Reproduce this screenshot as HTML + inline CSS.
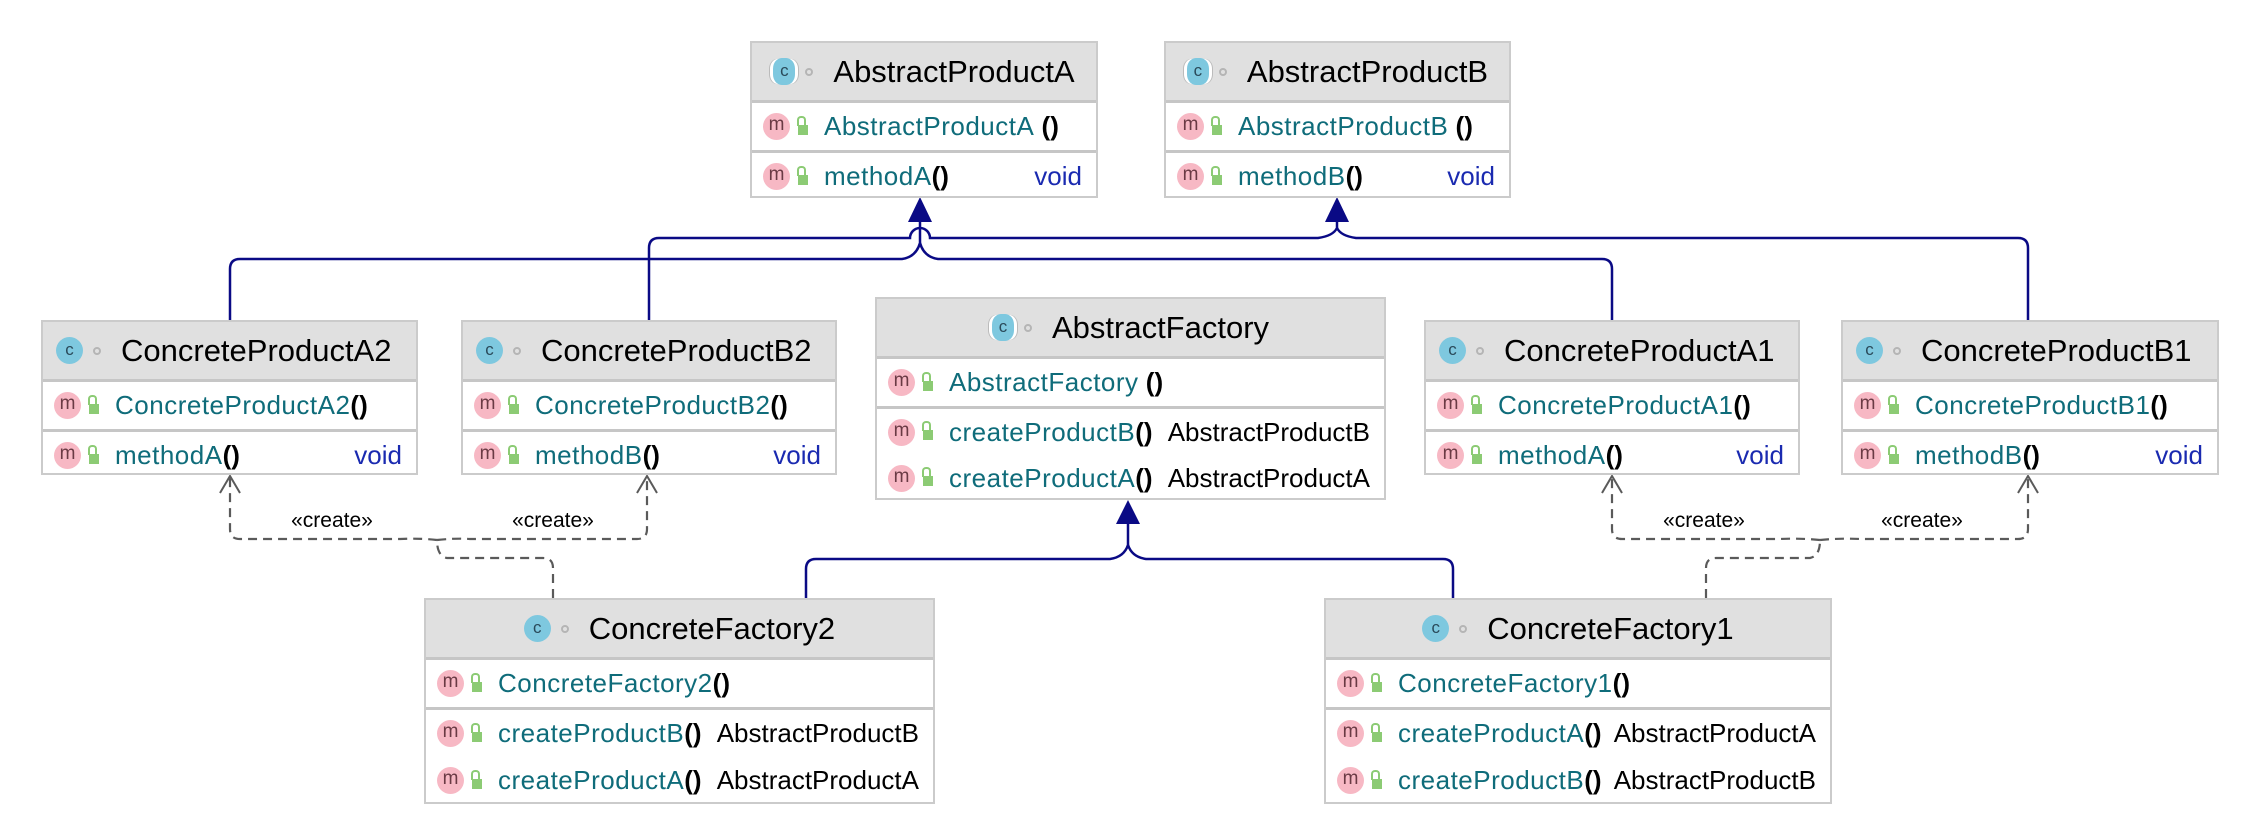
<!DOCTYPE html>
<html><head><meta charset="utf-8"><style>
html,body{margin:0;padding:0;background:#fff;}
body{width:2256px;height:840px;position:relative;overflow:hidden;font-family:"Liberation Sans",sans-serif;}
.box{position:absolute;box-sizing:border-box;border:2px solid #cbcbcb;background:#fff;}
.hd{height:57px;background:#e0e0e0;border-bottom:3px solid #c6c6c6;display:flex;align-items:center;justify-content:center;font-size:31px;color:#000;white-space:nowrap;}
.hd.l{justify-content:flex-start;padding-left:13px;}
.ci{width:27px;height:27px;border-radius:50%;background:#7ec8df;color:#2a4a5a;font-size:17px;line-height:25px;text-align:center;display:inline-block;margin-right:10px;flex:none;}
.ci.ab{box-shadow:-4px 0 0 -1px #fff,-5px 0 0 -1px #bbb,4px 0 0 -1px #fff,5px 0 0 -1px #bbb;border-radius:40%;width:22px;}
.dot{width:8px;height:8px;border-radius:50%;border:2px solid #b5b5b5;display:inline-block;margin-right:20px;box-sizing:border-box;flex:none;}
.row{height:47px;display:flex;align-items:center;padding-left:11px;padding-right:14px;font-size:26px;white-space:nowrap;position:relative;}
.sep{border-top:3px solid #c6c6c6;}
.mi{width:27px;height:27px;border-radius:50%;background:#f7b8c4;color:#6a3a44;font-size:19px;line-height:24px;text-align:center;flex:none;}
.lk{width:10px;height:10px;background:#8ccb74;margin-left:8px;margin-right:16px;margin-top:6px;flex:none;position:relative;}
.lk:before{content:"";position:absolute;left:-1px;top:-9px;width:5px;height:8px;border:2px solid #8ccb74;border-bottom:none;border-radius:4px 4px 0 0;}
.n{color:#0f6c7a;letter-spacing:0.5px;}
.p{color:#000;font-weight:bold;}
.r{margin-left:auto;padding-left:10px;color:#000;}
.v{margin-left:auto;color:#1a2ab0;}
.lbl{position:absolute;font-size:21px;color:#000;transform:translate(-50%,-50%);}
</style></head><body>
<svg width="2256" height="840" style="position:absolute;left:0;top:0" xmlns="http://www.w3.org/2000/svg">
<g fill="none" stroke="#0a0a85" stroke-width="2.5">
<path d="M230 322 V269 Q230 259 240 259 H902 Q916 257 920 243 V221"/>
<path d="M1612 322 V269 Q1612 259 1602 259 H938 Q924 257 920 243"/>
<path d="M649 322 V248 Q649 238 659 238 H910 A10 10 0 0 1 930 238 H1318 Q1333 236 1337 228 V221"/>
<path d="M2028 322 V248 Q2028 238 2018 238 H1356 Q1341 236 1337 228"/>
<path d="M806 598 V569 Q806 559 816 559 H1110 Q1124 557 1128 545 V523"/>
<path d="M1453 598 V569 Q1453 559 1443 559 H1146 Q1132 557 1128 545"/>
</g>
<g fill="#0a0a85">
<polygon points="920,197 908,222 932,222"/>
<polygon points="1337,197 1325,222 1349,222"/>
<polygon points="1128,500 1116,524 1140,524"/>
</g>
<g fill="none" stroke="#5a5a5a" stroke-width="2.2" stroke-dasharray="9,6">
<path d="M553 598 V568 Q553 558 543 558 H447 Q437 556 437 540"/>
<path d="M437 540 Q420 538 400 539 H240 Q230 539 230 529 V478"/>
<path d="M437 540 Q455 538 470 539 H637 Q647 539 647 529 V478"/>
<path d="M1706 598 V568 Q1706 558 1716 558 H1810 Q1820 556 1820 540"/>
<path d="M1820 540 Q1800 538 1780 539 H1622 Q1612 539 1612 529 V478"/>
<path d="M1820 540 Q1840 538 1860 539 H2018 Q2028 539 2028 529 V478"/>
</g>
<g fill="none" stroke="#5a5a5a" stroke-width="2">
<path d="M220 493 L230 476 L240 493"/>
<path d="M637 493 L647 476 L657 493"/>
<path d="M1602 493 L1612 476 L1622 493"/>
<path d="M2018 493 L2028 476 L2038 493"/>
</g>
</svg>

<div class="lbl" style="left:332px;top:521px">«create»</div>
<div class="lbl" style="left:553px;top:521px">«create»</div>
<div class="lbl" style="left:1704px;top:521px">«create»</div>
<div class="lbl" style="left:1922px;top:521px">«create»</div>

<div class="box" style="left:750px;top:41px;width:348px;height:157px">
<div class="hd"><span class="ci ab">c</span><span class="dot"></span>AbstractProductA</div>
<div class="row"><span class="mi">m</span><span class="lk"></span><span class="n">AbstractProductA</span>&nbsp;<span class="p">()</span></div>
<div class="row sep"><span class="mi">m</span><span class="lk"></span><span class="n">methodA</span><span class="p">()</span><span class="v">void</span></div>
</div>
<div class="box" style="left:1164px;top:41px;width:347px;height:157px">
<div class="hd"><span class="ci ab">c</span><span class="dot"></span>AbstractProductB</div>
<div class="row"><span class="mi">m</span><span class="lk"></span><span class="n">AbstractProductB</span>&nbsp;<span class="p">()</span></div>
<div class="row sep"><span class="mi">m</span><span class="lk"></span><span class="n">methodB</span><span class="p">()</span><span class="v">void</span></div>
</div>

<div class="box" style="left:41px;top:320px;width:377px;height:155px">
<div class="hd l"><span class="ci">c</span><span class="dot"></span>ConcreteProductA2</div>
<div class="row"><span class="mi">m</span><span class="lk"></span><span class="n">ConcreteProductA2</span><span class="p">()</span></div>
<div class="row sep"><span class="mi">m</span><span class="lk"></span><span class="n">methodA</span><span class="p">()</span><span class="v">void</span></div>
</div>
<div class="box" style="left:461px;top:320px;width:376px;height:155px">
<div class="hd l"><span class="ci">c</span><span class="dot"></span>ConcreteProductB2</div>
<div class="row"><span class="mi">m</span><span class="lk"></span><span class="n">ConcreteProductB2</span><span class="p">()</span></div>
<div class="row sep"><span class="mi">m</span><span class="lk"></span><span class="n">methodB</span><span class="p">()</span><span class="v">void</span></div>
</div>
<div class="box" style="left:1424px;top:320px;width:376px;height:155px">
<div class="hd l"><span class="ci">c</span><span class="dot"></span>ConcreteProductA1</div>
<div class="row"><span class="mi">m</span><span class="lk"></span><span class="n">ConcreteProductA1</span><span class="p">()</span></div>
<div class="row sep"><span class="mi">m</span><span class="lk"></span><span class="n">methodA</span><span class="p">()</span><span class="v">void</span></div>
</div>
<div class="box" style="left:1841px;top:320px;width:378px;height:155px">
<div class="hd l"><span class="ci">c</span><span class="dot"></span>ConcreteProductB1</div>
<div class="row"><span class="mi">m</span><span class="lk"></span><span class="n">ConcreteProductB1</span><span class="p">()</span></div>
<div class="row sep"><span class="mi">m</span><span class="lk"></span><span class="n">methodB</span><span class="p">()</span><span class="v">void</span></div>
</div>

<div class="box" style="left:875px;top:297px;width:511px;height:203px">
<div class="hd"><span class="ci ab">c</span><span class="dot"></span>AbstractFactory</div>
<div class="row"><span class="mi">m</span><span class="lk"></span><span class="n">AbstractFactory</span>&nbsp;<span class="p">()</span></div>
<div class="row sep" style="height:46px"><span class="mi">m</span><span class="lk"></span><span class="n">createProductB</span><span class="p">()</span><span class="r">AbstractProductB</span></div>
<div class="row" style="height:46px"><span class="mi">m</span><span class="lk"></span><span class="n">createProductA</span><span class="p">()</span><span class="r">AbstractProductA</span></div>
</div>

<div class="box" style="left:424px;top:598px;width:511px;height:206px">
<div class="hd"><span class="ci">c</span><span class="dot"></span>ConcreteFactory2</div>
<div class="row"><span class="mi">m</span><span class="lk"></span><span class="n">ConcreteFactory2</span><span class="p">()</span></div>
<div class="row sep"><span class="mi">m</span><span class="lk"></span><span class="n">createProductB</span><span class="p">()</span><span class="r">AbstractProductB</span></div>
<div class="row"><span class="mi">m</span><span class="lk"></span><span class="n">createProductA</span><span class="p">()</span><span class="r">AbstractProductA</span></div>
</div>
<div class="box" style="left:1324px;top:598px;width:508px;height:206px">
<div class="hd"><span class="ci">c</span><span class="dot"></span>ConcreteFactory1</div>
<div class="row"><span class="mi">m</span><span class="lk"></span><span class="n">ConcreteFactory1</span><span class="p">()</span></div>
<div class="row sep"><span class="mi">m</span><span class="lk"></span><span class="n">createProductA</span><span class="p">()</span><span class="r">AbstractProductA</span></div>
<div class="row"><span class="mi">m</span><span class="lk"></span><span class="n">createProductB</span><span class="p">()</span><span class="r">AbstractProductB</span></div>
</div>
</body></html>
